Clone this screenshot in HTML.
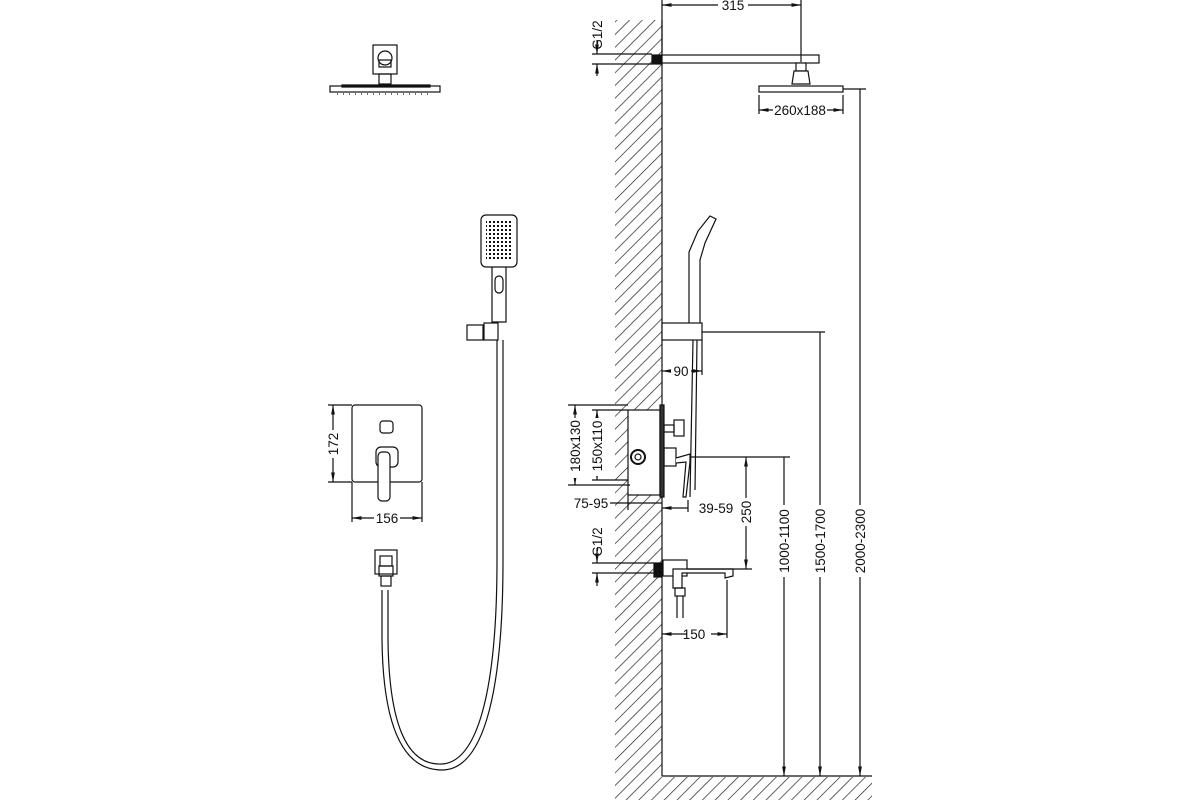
<!DOCTYPE html>
<html><head><meta charset="utf-8"><style>
html,body{margin:0;padding:0;background:#fff}
svg{display:block}
text{font-family:"Liberation Sans",sans-serif;font-size:13.5px;fill:#111}
</style></head><body>
<svg width="1200" height="800" viewBox="0 0 1200 800" xmlns="http://www.w3.org/2000/svg">
<defs>
<pattern id="h" patternUnits="userSpaceOnUse" width="9" height="9" patternTransform="rotate(45)">
<line x1="0" y1="0" x2="0" y2="9" stroke="#222" stroke-width="1.4"/>
</pattern>
<pattern id="d" patternUnits="userSpaceOnUse" width="4" height="4">
<rect x="1" y="1" width="2" height="2" fill="#111"/>
</pattern>
<marker id="a" viewBox="0 0 10 10" refX="10" refY="5" markerWidth="8" markerHeight="8" orient="auto-start-reverse"><path d="M0,3 L10,5 L0,7 z" fill="#111"/></marker>
</defs>
<g stroke="#111" fill="none" stroke-width="1.2">
<rect x="615" y="20" width="47" height="780" fill="url(#h)" stroke="none"/>
<rect x="662" y="777" width="210" height="23" fill="url(#h)" stroke="none"/>
<line x1="662" y1="20" x2="662" y2="776"/>
<line x1="662" y1="776" x2="872" y2="776"/>

<rect x="652" y="55" width="10" height="9" fill="#111"/>
<rect x="662" y="55" width="157" height="8" fill="#fff"/>
<rect x="796" y="63" width="10" height="8" fill="#fff"/>
<path d="M794 71 L808 71 L810 84 L792 84 Z" fill="#fff"/>
<rect x="759" y="86" width="84" height="6" fill="#fff"/>
<line x1="662" y1="0" x2="662" y2="52"/><line x1="801" y1="0" x2="801" y2="62"/>
<line x1="662" y1="5" x2="801" y2="5" marker-start="url(#a)" marker-end="url(#a)"/>
<line x1="759" y1="95" x2="759" y2="114"/><line x1="843" y1="95" x2="843" y2="114"/>
<line x1="759" y1="110" x2="843" y2="110" marker-start="url(#a)" marker-end="url(#a)"/>
<line x1="592" y1="54" x2="652" y2="54"/><line x1="592" y1="64" x2="652" y2="64"/>
<line x1="597" y1="40" x2="597" y2="54" marker-end="url(#a)"/><line x1="597" y1="76" x2="597" y2="64" marker-end="url(#a)"/>

<path d="M689 323 L689 252 L698 231 L710 216 L716 219 L705 243 L700 260 L700 323" fill="#fff"/>
<rect x="662" y="323" width="40" height="17" fill="#fff"/>
<line x1="693" y1="340" x2="690" y2="497"/><line x1="697" y1="340" x2="695" y2="490"/>
<line x1="702" y1="340" x2="702" y2="375"/>
<line x1="702" y1="332" x2="825" y2="332"/>
<line x1="662" y1="371" x2="702" y2="371" marker-start="url(#a)" marker-end="url(#a)"/>

<rect x="628" y="410" width="32" height="85" fill="#fff"/>
<rect x="660" y="405" width="4" height="92" fill="#333"/>
<circle cx="638" cy="457" r="7" stroke-width="2"/><circle cx="638" cy="457" r="3"/>
<rect x="664" y="425" width="10" height="7"/><rect x="674" y="420" width="10" height="16"/>
<rect x="664" y="448" width="12" height="18"/>
<path d="M676 458 L690 454 L690 462 L686 497 L683 497 L686 462 L676 463" fill="#fff"/>
<line x1="690" y1="457" x2="790" y2="457"/>
<line x1="568" y1="405" x2="628" y2="405"/><line x1="568" y1="485" x2="630" y2="485"/>
<line x1="575" y1="405" x2="575" y2="485" marker-start="url(#a)" marker-end="url(#a)"/>
<line x1="592" y1="410" x2="628" y2="410"/><line x1="592" y1="480" x2="628" y2="480"/>
<line x1="597" y1="410" x2="597" y2="480" marker-start="url(#a)" marker-end="url(#a)"/>
<line x1="628" y1="495" x2="628" y2="510"/>
<line x1="610" y1="503" x2="662" y2="503"/>
<line x1="662" y1="508" x2="688" y2="508" marker-start="url(#a)"/><line x1="688" y1="500" x2="688" y2="512"/>
<line x1="746" y1="457" x2="746" y2="569" marker-start="url(#a)" marker-end="url(#a)"/>
<line x1="784" y1="457" x2="784" y2="776" marker-end="url(#a)"/>
<line x1="820" y1="332" x2="820" y2="776" marker-end="url(#a)"/>
<line x1="860" y1="89" x2="860" y2="776" marker-end="url(#a)"/>
<line x1="843" y1="89" x2="866" y2="89"/>

<rect x="654" y="563" width="8" height="14" fill="#111"/>
<rect x="663" y="560" width="24" height="16" fill="#fff"/>
<path d="M673 569 L733 569 L733 576 L725 578 L725 573 L682 573 L682 588 L673 588 Z" fill="#fff"/>
<rect x="675" y="588" width="10" height="8"/>
<line x1="677" y1="596" x2="677" y2="618"/><line x1="683" y1="596" x2="683" y2="618"/>
<line x1="687" y1="569" x2="752" y2="569"/>
<line x1="727" y1="580" x2="727" y2="638"/>
<line x1="662" y1="634" x2="727" y2="634" marker-start="url(#a)" marker-end="url(#a)"/>
<line x1="592" y1="563" x2="654" y2="563"/><line x1="592" y1="573" x2="654" y2="573"/>
<line x1="597" y1="548" x2="597" y2="563" marker-end="url(#a)"/><line x1="597" y1="586" x2="597" y2="573" marker-end="url(#a)"/>

<rect x="373" y="45" width="24" height="29"/>
<circle cx="385" cy="58" r="7"/>
<rect x="379" y="60" width="12" height="7"/>
<rect x="379" y="74" width="12" height="10"/>
<path d="M342 85 L430 85 L430 87 L342 87 Z"/>
<rect x="330" y="86" width="110" height="6"/>
<line x1="337" y1="94" x2="433" y2="94" stroke-dasharray="1 5"/>

<rect x="481" y="215" width="36" height="52" rx="5"/>
<rect x="486" y="221" width="26" height="40" fill="url(#d)" stroke="none"/>
<path d="M492 267 L492 322 L506 322 L506 267"/>
<rect x="495" y="276" width="8" height="17" rx="4"/>
<rect x="467" y="325" width="16" height="15"/><rect x="484" y="323" width="14" height="17"/>
<path d="M497 340 L497 560 C497 700 475 762 442 764 C405 766 389 720 388 640 L388 590" />
<path d="M503 340 L503 560 C503 705 480 770 442 770 C400 770 383 720 382 640 L382 590" />
<rect x="375" y="550" width="22" height="24"/>
<rect x="380" y="556" width="12" height="10"/>
<rect x="379" y="566" width="14" height="10"/>
<rect x="381" y="576" width="10" height="10"/>

<rect x="352" y="405" width="70" height="77" rx="3"/>
<rect x="380" y="421" width="13" height="12" rx="3"/>
<rect x="376" y="447" width="22" height="20" rx="5"/>
<rect x="378" y="452" width="12" height="49" rx="4" fill="#fff"/>
<line x1="328" y1="405" x2="352" y2="405"/><line x1="328" y1="482" x2="352" y2="482"/>
<line x1="333" y1="405" x2="333" y2="482" marker-start="url(#a)" marker-end="url(#a)"/>
<line x1="352" y1="482" x2="352" y2="522"/><line x1="422" y1="482" x2="422" y2="522"/>
<line x1="352" y1="518" x2="422" y2="518" marker-start="url(#a)" marker-end="url(#a)"/>
</g>
<g>
<rect x="718" y="0" width="30" height="12" fill="#fff"/>
<text x="733" y="10" text-anchor="middle">315</text>
<rect x="773" y="103" width="54" height="14" fill="#fff"/>
<text x="800" y="115" text-anchor="middle">260x188</text>
<text transform="translate(602,35) rotate(-90)" text-anchor="middle">G1/2</text>
<text transform="translate(602,542) rotate(-90)" text-anchor="middle">G1/2</text>
<rect x="671" y="364" width="20" height="14" fill="#fff"/>
<text x="681" y="376" text-anchor="middle">90</text>
<rect x="569" y="418" width="12" height="60" fill="#fff"/>
<text transform="translate(580,446) rotate(-90)" text-anchor="middle">180x130</text>
<rect x="591" y="418" width="12" height="58" fill="#fff"/>
<text transform="translate(602,446) rotate(-90)" text-anchor="middle">150x110</text>
<text x="591" y="508" text-anchor="middle">75-95</text>
<text x="716" y="513" text-anchor="middle">39-59</text>
<rect x="739" y="498" width="14" height="28" fill="#fff"/>
<text transform="translate(751,512) rotate(-90)" text-anchor="middle">250</text>
<rect x="777" y="505" width="14" height="72" fill="#fff"/>
<text transform="translate(789,541) rotate(-90)" text-anchor="middle">1000-1100</text>
<rect x="813" y="505" width="14" height="72" fill="#fff"/>
<text transform="translate(825,541) rotate(-90)" text-anchor="middle">1500-1700</text>
<rect x="853" y="505" width="14" height="72" fill="#fff"/>
<text transform="translate(865,541) rotate(-90)" text-anchor="middle">2000-2300</text>
<rect x="687" y="627" width="24" height="14" fill="#fff"/>
<text x="694" y="639" text-anchor="middle">150</text>
<rect x="326" y="430" width="14" height="28" fill="#fff"/>
<text transform="translate(338,444) rotate(-90)" text-anchor="middle">172</text>
<rect x="374" y="511" width="26" height="14" fill="#fff"/>
<text x="387" y="523" text-anchor="middle">156</text>
</g>
</svg>
</body></html>
